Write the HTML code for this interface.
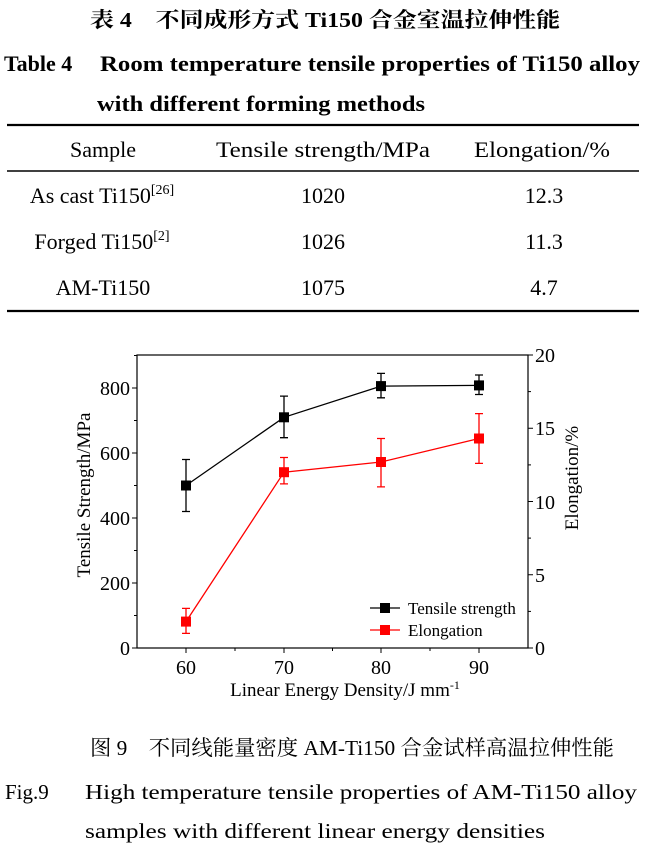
<!DOCTYPE html>
<html><head><meta charset="utf-8"><style>
body{margin:0;background:#fff;width:646px;height:848px;overflow:hidden}
svg{display:block}
.s{font-family:"Liberation Serif","Noto Serif CJK SC",serif}
.c{font-family:"Liberation Serif","Noto Serif CJK SC",serif}
</style></head><body>
<svg width="646" height="848" viewBox="0 0 646 848" xmlns="http://www.w3.org/2000/svg">
<g fill="#000">
<text class="c" x="325" y="27" font-size="21" text-anchor="middle" font-weight="bold" textLength="470" lengthAdjust="spacingAndGlyphs">表 4　不同成形方式 Ti150 合金室温拉伸性能</text>
<text class="s" x="4" y="71" font-size="22" font-weight="bold">Table 4</text>
<text class="s" x="100" y="71" font-size="22" font-weight="bold" textLength="540" lengthAdjust="spacingAndGlyphs">Room temperature tensile properties of Ti150 alloy</text>
<text class="s" x="97" y="111" font-size="22" font-weight="bold" textLength="328" lengthAdjust="spacingAndGlyphs">with different forming methods</text>
</g>
<line x1="7" y1="125" x2="639" y2="125" stroke="#000" stroke-width="2.2"/>
<line x1="7" y1="171" x2="639" y2="171" stroke="#000" stroke-width="1.6"/>
<line x1="7" y1="311" x2="639" y2="311" stroke="#000" stroke-width="2.2"/>
<g class="s" font-size="22" fill="#000" text-anchor="middle">
<text x="103" y="157">Sample</text>
<text x="323" y="157" textLength="214" lengthAdjust="spacingAndGlyphs">Tensile strength/MPa</text>
<text x="542" y="157" textLength="136" lengthAdjust="spacingAndGlyphs">Elongation/%</text>
<text x="102" y="203">As cast Ti150<tspan font-size="14" dy="-9">[26]</tspan></text>
<text x="323" y="203">1020</text>
<text x="544" y="203">12.3</text>
<text x="102" y="249">Forged Ti150<tspan font-size="14" dy="-9">[2]</tspan></text>
<text x="323" y="249">1026</text>
<text x="544" y="249">11.3</text>
<text x="103" y="295">AM-Ti150</text>
<text x="323" y="295">1075</text>
<text x="544" y="295">4.7</text>
</g>
<!-- chart -->
<rect x="137" y="355" width="391" height="293" fill="none" stroke="#000" stroke-width="1.2"/>
<g stroke="#000" stroke-width="1">
<line x1="132" y1="648" x2="137" y2="648"/><line x1="132" y1="583" x2="137" y2="583"/><line x1="132" y1="518" x2="137" y2="518"/><line x1="132" y1="453" x2="137" y2="453"/><line x1="132" y1="388" x2="137" y2="388"/>
<line x1="134" y1="615.5" x2="137" y2="615.5"/><line x1="134" y1="550.5" x2="137" y2="550.5"/><line x1="134" y1="485.5" x2="137" y2="485.5"/><line x1="134" y1="420.5" x2="137" y2="420.5"/><line x1="134" y1="355.5" x2="137" y2="355.5"/>
<line x1="528" y1="648" x2="533" y2="648"/><line x1="528" y1="574.75" x2="533" y2="574.75"/><line x1="528" y1="501.5" x2="533" y2="501.5"/><line x1="528" y1="428.25" x2="533" y2="428.25"/><line x1="528" y1="355" x2="533" y2="355"/>
<line x1="528" y1="611.4" x2="531" y2="611.4"/><line x1="528" y1="538.1" x2="531" y2="538.1"/><line x1="528" y1="464.9" x2="531" y2="464.9"/><line x1="528" y1="391.6" x2="531" y2="391.6"/>
<line x1="186" y1="648" x2="186" y2="653"/><line x1="284" y1="648" x2="284" y2="653"/><line x1="381" y1="648" x2="381" y2="653"/><line x1="479" y1="648" x2="479" y2="653"/>
<line x1="235" y1="648" x2="235" y2="651"/><line x1="332.5" y1="648" x2="332.5" y2="651"/><line x1="430" y1="648" x2="430" y2="651"/>
</g>
<g class="s" font-size="20" fill="#000">
<g text-anchor="end"><text x="130" y="655">0</text><text x="130" y="590">200</text><text x="130" y="525">400</text><text x="130" y="460">600</text><text x="130" y="395">800</text></g>
<text x="535" y="655">0</text><text x="535" y="582">5</text><text x="535" y="509">10</text><text x="535" y="435">15</text><text x="535" y="362">20</text>
<g text-anchor="middle"><text x="186" y="674">60</text><text x="284" y="674">70</text><text x="381" y="674">80</text><text x="479" y="674">90</text></g>
</g>
<g class="s" font-size="19" fill="#000" text-anchor="middle">
<text x="345" y="696">Linear Energy Density/J mm<tspan font-size="12" dy="-7">-1</tspan></text>
<text transform="translate(90,495) rotate(-90)">Tensile Strength/MPa</text>
<text transform="translate(578,478) rotate(-90)">Elongation/%</text>
</g>
<!-- black series -->
<g stroke="#000" stroke-width="1.3" fill="none">
<polyline points="186,485.5 284,417.3 381,386.1 479,385.4"/>
<path d="M186,459.5V511.5M182,459.5h8M182,511.5h8 M284,396.1V437.7M280,396.1h8M280,437.7h8 M381,373.4V397.8M377,373.4h8M377,397.8h8 M479,375V394.5M475,375h8M475,394.5h8"/>
</g>
<g fill="#000"><rect x="181" y="480.5" width="10" height="10"/><rect x="279" y="412.3" width="10" height="10"/><rect x="376" y="381.1" width="10" height="10"/><rect x="474" y="380.4" width="10" height="10"/></g>
<!-- red series -->
<g stroke="#f00" stroke-width="1.3" fill="none">
<polyline points="186,621.6 284,472.2 381,462 479,438.5"/>
<path d="M186,608.4V633.4M182,608.4h8M182,633.4h8 M284,457.5V483.9M280,457.5h8M280,483.9h8 M381,438.5V486.9M377,438.5h8M377,486.9h8 M479,413.6V463.4M475,413.6h8M475,463.4h8"/>
</g>
<g fill="#f00"><rect x="181" y="616.6" width="10" height="10"/><rect x="279" y="467.2" width="10" height="10"/><rect x="376" y="457" width="10" height="10"/><rect x="474" y="433.5" width="10" height="10"/></g>
<!-- legend -->
<line x1="370" y1="608" x2="400" y2="608" stroke="#000" stroke-width="1.3"/><rect x="380" y="603" width="10" height="10" fill="#000"/>
<line x1="370" y1="630" x2="400" y2="630" stroke="#f00" stroke-width="1.3"/><rect x="380" y="625" width="10" height="10" fill="#f00"/>
<g class="s" font-size="17" fill="#000"><text x="408" y="614">Tensile strength</text><text x="408" y="636">Elongation</text></g>
<!-- captions -->
<g class="s" fill="#000">
<text x="90" y="755" font-size="21" textLength="524" lengthAdjust="spacingAndGlyphs">图 9　不同线能量密度 AM-Ti150 合金试样高温拉伸性能</text>
<text x="5" y="799" font-size="21">Fig.9</text>
<text x="85" y="799" font-size="21" textLength="552" lengthAdjust="spacingAndGlyphs">High temperature tensile properties of AM-Ti150 alloy</text>
<text x="85" y="838" font-size="21" textLength="460" lengthAdjust="spacingAndGlyphs">samples with different linear energy densities</text>
</g>
</svg>
</body></html>
